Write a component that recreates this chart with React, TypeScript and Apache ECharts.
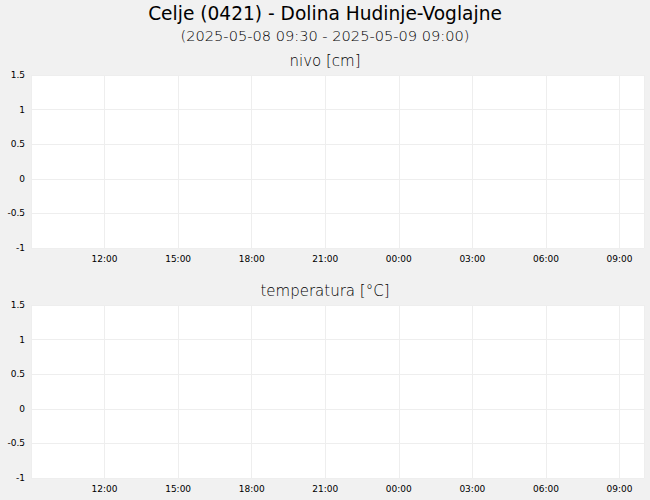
import * as echarts from "echarts"
import { useEffect, useRef } from "react"

const title = "Celje (0421) - Dolina Hudinje-Voglajne"
const subtitle = "(2025-05-08 09:30 - 2025-05-09 09:00)"
const panelTitles = ["nivo [cm]", "temperatura [°C]"]

// time range of the x axis (UTC ms), ticks every 3 h
const xStart = Date.UTC(2025, 4, 8, 9, 0)
const xEnd = Date.UTC(2025, 4, 9, 10, 0)
const xStep = 3 * 3600 * 1000

const yMin = -1
const yMax = 1.5
const yStep = 0.5

// no measurements in the period
const nivoValues: [number, number][] = []
const temperaturaValues: [number, number][] = []

const font = "DejaVu Sans"
const pad = (n: number) => (n < 10 ? "0" + n : "" + n)

export default function App(): React.ReactElement {
  const ref = useRef<HTMLDivElement>(null)

  useEffect(() => {
    const node = ref.current
    if (!node) return
    const chart = echarts.init(node, undefined, { renderer: "svg" })

    const grids = [
      { left: 31, right: 6, top: 75, height: 173 },
      { left: 31, right: 6, top: 305, height: 173 },
    ]

    const xAxis = grids.map((_, i) => ({
      type: "value" as const,
      gridIndex: i,
      min: xStart,
      max: xEnd,
      interval: xStep,
      axisLine: { show: false },
      axisTick: { show: false },
      axisLabel: {
        showMinLabel: false,
        showMaxLabel: false,
        fontFamily: font,
        fontSize: 9,
        color: "#000",
        margin: 6,
        formatter: (v: number) => {
          const d = new Date(v)
          return pad(d.getUTCHours()) + ":" + pad(d.getUTCMinutes())
        },
      },
      splitLine: { lineStyle: { color: "#eeeeee", width: 1 } },
    }))

    const yAxis = grids.map((_, i) => ({
      type: "value" as const,
      gridIndex: i,
      min: yMin,
      max: yMax,
      interval: yStep,
      axisLine: { show: false },
      axisTick: { show: false },
      axisLabel: {
        fontFamily: font,
        fontSize: 9,
        color: "#000",
        margin: 6,
      },
      splitLine: { lineStyle: { color: "#eeeeee", width: 1 } },
    }))

    const light = { fontFamily: font, fontSize: 15, fontWeight: 200, color: "#000" }

    chart.setOption({
      backgroundColor: "#f1f1f1",
      animation: false,
      title: [
        {
          text: title,
          left: 325,
          top: 4,
          textAlign: "center",
          padding: 0,
          textStyle: { fontFamily: font, fontSize: 18.6, fontWeight: "normal", color: "#000" },
        },
        {
          text: subtitle,
          left: 325,
          top: 28,
          textAlign: "center",
          padding: 0,
          textStyle: { ...light, fontSize: 14.6 },
        },
        ...panelTitles.map((t, i) => ({
          text: t,
          left: 325,
          top: i === 0 ? 53 : 283,
          textAlign: "center",
          padding: 0,
          textStyle: light,
        })),
      ],
      grid: grids.map((g) => ({ ...g, show: true, backgroundColor: "#fff", borderWidth: 0 })),
      xAxis,
      yAxis,
      series: [
        {
          type: "line",
          name: panelTitles[0],
          xAxisIndex: 0,
          yAxisIndex: 0,
          data: nivoValues,
          showSymbol: false,
          lineStyle: { color: "#1f4e9c", width: 1.5 },
        },
        {
          type: "line",
          name: panelTitles[1],
          xAxisIndex: 1,
          yAxisIndex: 1,
          data: temperaturaValues,
          showSymbol: false,
          lineStyle: { color: "#c0392b", width: 1.5 },
        },
      ],
    })

    return () => chart.dispose()
  }, [])

  return (
    <div
      ref={ref}
      style={{ position: "absolute", left: 0, top: 0, width: 650, height: 500 }}
    />
  )
}
